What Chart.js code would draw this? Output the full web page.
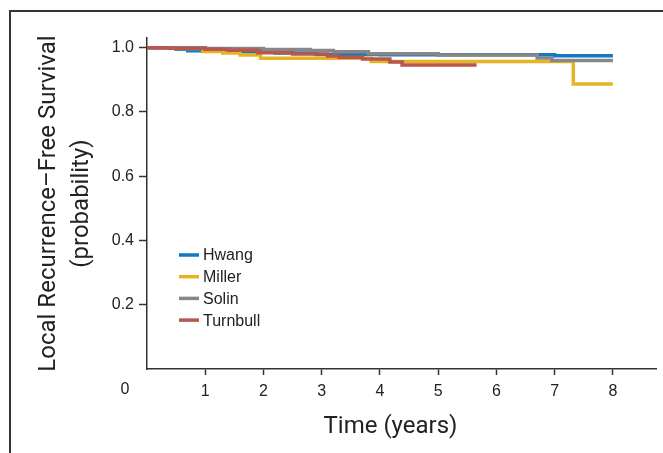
<!DOCTYPE html>
<html>
<head>
<meta charset="utf-8">
<script src="https://cdn.jsdelivr.net/npm/chart.js@4.4.1/dist/chart.umd.min.js"></script>
<style>
  html, body { margin:0; padding:0; background:#fff; }
  #wrap { position:relative; width:663px; height:453px; overflow:hidden; }
  #frame { position:absolute; left:9px; top:10px; width:700px; height:500px;
           border-top:2px solid #333; border-left:2px solid #333; box-sizing:border-box; }
  canvas { position:absolute; left:0; top:0; }
</style>
</head>
<body>
<div id="wrap">
  <div id="frame"></div>
  <canvas id="kmChart" width="663" height="453"></canvas>
</div>
<script>

// Kaplan-Meier curves (time in years, survival probability)
const seriesNames = ["Hwang", "Miller", "Solin", "Turnbull"];

const hwangTime = [0, 0.5, 0.7, 1.5, 2.2, 2.9, 4.0, 7.0, 8.0];
const hwangSurv = [1.0, 0.995, 0.99, 0.987, 0.983, 0.979, 0.978, 0.975, 0.975];

const millerTime = [0, 0.5, 0.96, 1.3, 1.6, 1.95, 3.85, 7.32, 8.0];
const millerSurv = [1.0, 0.997, 0.988, 0.983, 0.977, 0.967, 0.957, 0.887, 0.887];

const solinTime = [0, 1.0, 2.0, 2.8, 3.2, 3.8, 5.0, 6.7, 6.95, 8.0];
const solinSurv = [1.0, 0.997, 0.994, 0.991, 0.987, 0.981, 0.977, 0.968, 0.96, 0.96];

const turnbullTime = [0, 0.4, 1.0, 1.4, 1.9, 2.5, 3.1, 3.3, 3.7, 4.17, 4.38, 5.66];
const turnbullSurv = [1.0, 0.998, 0.995, 0.992, 0.984, 0.98, 0.974, 0.97, 0.965, 0.955, 0.946, 0.946];

const xTickValues = [1, 2, 3, 4, 5, 6, 7, 8];
const yTickValues = [0.2, 0.4, 0.6, 0.8, 1.0];

const xTitle = "Time (years)";
const yTitle = ["Local Recurrence\u2013Free Survival", "(probability)"];

const colors = {
    Hwang: "#1479c4",
    Miller: "#e6b422",
    Solin: "#878787",
    Turnbull: "#b9574f"
};
// red drawn on top, then gray, yellow, blue
const drawOrder = { Hwang: 3, Miller: 2, Solin: 1, Turnbull: 0 };

function toPoints(times, surv){
    return times.map((t, i) => ({ x: t, y: surv[i] }));
}

const seriesData = {
    Hwang: toPoints(hwangTime, hwangSurv),
    Miller: toPoints(millerTime, millerSurv),
    Solin: toPoints(solinTime, solinSurv),
    Turnbull: toPoints(turnbullTime, turnbullSurv)
};

const tickFont = { family: "'Liberation Sans', Arial, sans-serif", size: 16 };
const titleFont = { family: "Roboto, 'Liberation Sans', sans-serif", size: 24 };

const insideLegend = {
    id: "insideLegend",
    afterDatasetsDraw(chart){
        const { ctx, chartArea } = chart;
        const x0 = chartArea.left + 32;
        const y0 = chartArea.top + 217;
        ctx.save();
        ctx.font = "16px 'Liberation Sans', Arial, sans-serif";
        ctx.textBaseline = "middle";
        seriesNames.forEach((name, i) => {
            const y = y0 + i * 21.7;
            ctx.strokeStyle = colors[name];
            ctx.lineWidth = 3.5;
            ctx.beginPath();
            ctx.moveTo(x0, y);
            ctx.lineTo(x0 + 20, y);
            ctx.stroke();
            ctx.fillStyle = "#222";
            ctx.fillText(name, x0 + 24, y + 1);
        });
        ctx.restore();
    }
};

// shared "0" at the origin, set off to the left like the original,
// and the x title centred over the span from that "0" to the axis end
const originLabel = {
    id: "originLabel",
    afterDraw(chart){
        const { ctx, chartArea } = chart;
        const xs = chart.scales.x;
        const zeroX = xs.getPixelForValue(0) - 22;
        ctx.save();
        ctx.font = "16px 'Liberation Sans', Arial, sans-serif";
        ctx.fillStyle = "#222";
        ctx.textAlign = "center";
        ctx.textBaseline = "top";
        ctx.fillText("0", zeroX, xs.top + 6 + 7);

        ctx.font = titleFont.size + "px " + titleFont.family;
        ctx.textBaseline = "middle";
        ctx.fillText(xTitle, (zeroX + chartArea.right) / 2, xs.bottom - 26);
        ctx.restore();
    }
};

new Chart(document.getElementById("kmChart"), {
    type: "line",
    data: {
        datasets: seriesNames.map(name => ({
            label: name,
            data: seriesData[name],
            borderColor: colors[name],
            backgroundColor: colors[name],
            borderWidth: 3.5,
            stepped: true,
            pointRadius: 0,
            fill: false,
            order: drawOrder[name]
        }))
    },
    options: {
        responsive: false,
        animation: false,
        layout: { padding: { top: 38, right: 7, left: 0, bottom: 0 } },
        plugins: {
            legend: { display: false },
            tooltip: { enabled: false }
        },
        scales: {
            x: {
                type: "linear",
                min: 0,
                max: 8.74,
                afterBuildTicks: s => { s.ticks = xTickValues.map(v => ({ value: v })); },
                afterFit: s => { s.height = 84; },
                ticks: { font: tickFont, color: "#222", padding: 7, maxRotation: 0,
                         callback: v => String(v) },
                grid: { drawOnChartArea: false, drawTicks: true, tickLength: 6, color: "#333", tickWidth: 1.5 },
                border: { display: true, color: "#333", width: 1.5 },
                title: { display: false }
            },
            y: {
                min: 0,
                max: 1.03,
                afterBuildTicks: s => { s.ticks = yTickValues.map(v => ({ value: v })); },
                afterFit: s => { s.width = 147; },
                ticks: { font: tickFont, color: "#222", padding: 5,
                         callback: v => Number(v).toFixed(1) },
                grid: { drawOnChartArea: false, drawTicks: true, tickLength: 8, color: "#333", tickWidth: 1.5 },
                border: { display: true, color: "#333", width: 1.5 },
                title: { display: true, text: yTitle,
                         font: Object.assign({ lineHeight: 1.35 }, titleFont), color: "#222",
                         padding: { top: 33, bottom: 0 } }
            }
        }
    },
    plugins: [insideLegend, originLabel]
});

</script>
</body>
</html>
